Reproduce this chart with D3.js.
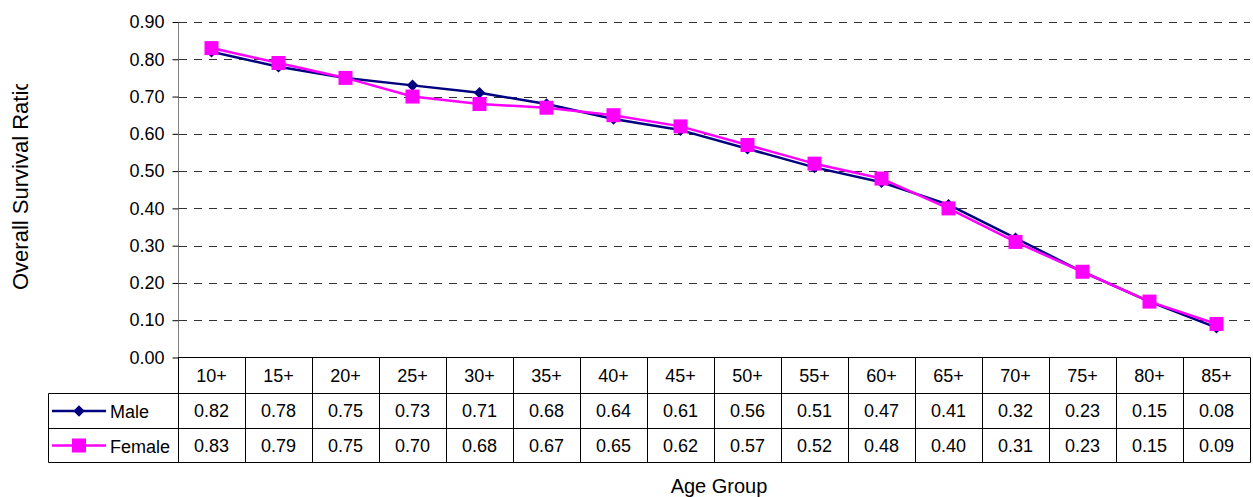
<!DOCTYPE html>
<html>
<head>
<meta charset="utf-8">
<script src="https://cdn.jsdelivr.net/npm/d3@7"></script>
<style>
  html, body { margin: 0; padding: 0; background: #fff; }
  svg { display: block; font-family: "Liberation Sans", Arial, sans-serif; }
</style>
</head>
<body>
<svg id="chart" width="1253" height="497"></svg>
<script>
// Survival ratio by age group, with the values table under the plot
const ageGroups = ["10+", "15+", "20+", "25+", "30+", "35+", "40+", "45+",
                   "50+", "55+", "60+", "65+", "70+", "75+", "80+", "85+"];
const maleValues   = [0.82, 0.78, 0.75, 0.73, 0.71, 0.68, 0.64, 0.61,
                      0.56, 0.51, 0.47, 0.41, 0.32, 0.23, 0.15, 0.08];
const femaleValues = [0.83, 0.79, 0.75, 0.70, 0.68, 0.67, 0.65, 0.62,
                      0.57, 0.52, 0.48, 0.40, 0.31, 0.23, 0.15, 0.09];
const yTickValues  = [0.00, 0.10, 0.20, 0.30, 0.40, 0.50, 0.60, 0.70, 0.80, 0.90];
const seriesNames  = ["Male", "Female"];

const series = [
  { name: seriesNames[0], values: maleValues,   color: "#000080", marker: "diamond" },
  { name: seriesNames[1], values: femaleValues, color: "#FF00FF", marker: "square" }
];

const svg = d3.select("#chart");
const plotLeft = 178, plotRight = 1250, plotTop = 22, plotBottom = 357.5;
const rowEdges = [357.5, 393.5, 428.5, 462.5];
const legendLeft = 48.5;
const fontSize = 18;

const x = d3.scaleBand().domain(ageGroups).range([plotLeft, plotRight]).padding(0);
const y = d3.scaleLinear().domain([0, 0.9]).range([plotBottom, plotTop]);
const cx = d => x(d) + x.bandwidth() / 2;

const markerPath = kind => kind === "diamond"
  ? d3.symbol().type(d3.symbolDiamond2).size(85)()
  : d3.symbol().type(d3.symbolSquare).size(196)();

// Dashed horizontal gridlines
svg.append("g")
  .selectAll("line")
  .data(yTickValues.filter(v => v > 0))
  .join("line")
  .attr("x1", plotLeft + 1).attr("x2", plotRight)
  .attr("y1", d => Math.round(y(d)) + 0.5).attr("y2", d => Math.round(y(d)) + 0.5)
  .attr("stroke", "#333")
  .attr("stroke-width", 1)
  .attr("stroke-dasharray", "8,7");

// Y axis
const yAxis = svg.append("g")
  .attr("transform", `translate(${plotLeft + 0.5},0)`)
  .call(d3.axisLeft(y).tickValues(yTickValues).tickFormat(d3.format(".2f")).tickSize(6).tickPadding(8));
yAxis.select(".domain").attr("stroke", "#808080").attr("d", `M0,${plotTop}V${plotBottom}`);
yAxis.selectAll(".tick line").attr("stroke", "#000");
yAxis.selectAll(".tick text")
  .attr("fill", "#000")
  .style("font-size", fontSize + "px")
  .style("font-family", "'Liberation Sans', Arial, sans-serif");

// Y axis title (clipped at the top)
svg.append("defs").append("clipPath").attr("id", "ytitle-clip")
  .append("rect").attr("x", 0).attr("y", 84).attr("width", 60).attr("height", 400);
svg.append("g")
  .attr("clip-path", "url(#ytitle-clip)")
  .append("text")
  .attr("transform", "translate(28,290) rotate(-90)")
  .attr("text-anchor", "start")
  .style("font-size", "22px")
  .attr("fill", "#000")
  .text("Overall Survival Ratio");

// Series lines and markers
const line = d3.line()
  .x((d, i) => cx(ageGroups[i]))
  .y(d => y(d));

series.forEach(s => {
  const g = svg.append("g");
  g.append("path")
    .datum(s.values)
    .attr("d", line)
    .attr("fill", "none")
    .attr("stroke", s.color)
    .attr("stroke-width", 2.5)
    .attr("stroke-linejoin", "round");
  g.selectAll("path.m")
    .data(s.values)
    .join("path")
    .attr("class", "m")
    .attr("d", markerPath(s.marker))
    .attr("transform", (d, i) => `translate(${cx(ageGroups[i])},${y(d)})`)
    .attr("fill", s.color);
});

// Data table grid
const table = svg.append("g").attr("stroke", "#000").attr("stroke-width", 1).attr("fill", "none");
table.append("line").attr("x1", plotLeft).attr("x2", plotRight + 0.5).attr("y1", rowEdges[0]).attr("y2", rowEdges[0]);
rowEdges.slice(1).forEach(ry => {
  table.append("line").attr("x1", legendLeft).attr("x2", plotRight + 0.5).attr("y1", ry).attr("y2", ry);
});
const colEdges = ageGroups.map(g => Math.round(x(g)) + 0.5).concat([plotRight + 0.5]);
table.selectAll("line.col")
  .data(colEdges)
  .join("line")
  .attr("class", "col")
  .attr("x1", d => d).attr("x2", d => d)
  .attr("y1", rowEdges[0]).attr("y2", rowEdges[3]);
table.append("line").attr("x1", legendLeft).attr("x2", legendLeft).attr("y1", rowEdges[1]).attr("y2", rowEdges[3]);

const rowMid = i => (rowEdges[i] + rowEdges[i + 1]) / 2;

// Header row
svg.append("g").selectAll("text")
  .data(ageGroups)
  .join("text")
  .attr("x", d => cx(d))
  .attr("y", rowMid(0))
  .attr("dy", "0.35em")
  .attr("text-anchor", "middle")
  .style("font-size", fontSize + "px")
  .attr("fill", "#000")
  .text(d => d);

// Value rows with legend keys
series.forEach((s, r) => {
  const my = rowMid(r + 1);
  const g = svg.append("g");
  g.selectAll("text")
    .data(s.values)
    .join("text")
    .attr("x", (d, i) => cx(ageGroups[i]))
    .attr("y", my)
    .attr("dy", "0.35em")
    .attr("text-anchor", "middle")
    .style("font-size", fontSize + "px")
    .attr("fill", "#000")
    .text(d => d3.format(".2f")(d));
  g.append("line")
    .attr("x1", 52).attr("x2", 106).attr("y1", my).attr("y2", my)
    .attr("stroke", s.color).attr("stroke-width", 2.5);
  g.append("path")
    .attr("d", markerPath(s.marker))
    .attr("transform", `translate(79,${my})`)
    .attr("fill", s.color);
  g.append("text")
    .attr("x", 110).attr("y", my).attr("dy", "0.4em")
    .style("font-size", fontSize + "px")
    .attr("fill", "#000")
    .text(s.name);
});

// X axis title
svg.append("text")
  .attr("x", 719).attr("y", 493)
  .attr("text-anchor", "middle")
  .style("font-size", "20px")
  .attr("fill", "#000")
  .text("Age Group");
</script>
</body>
</html>
